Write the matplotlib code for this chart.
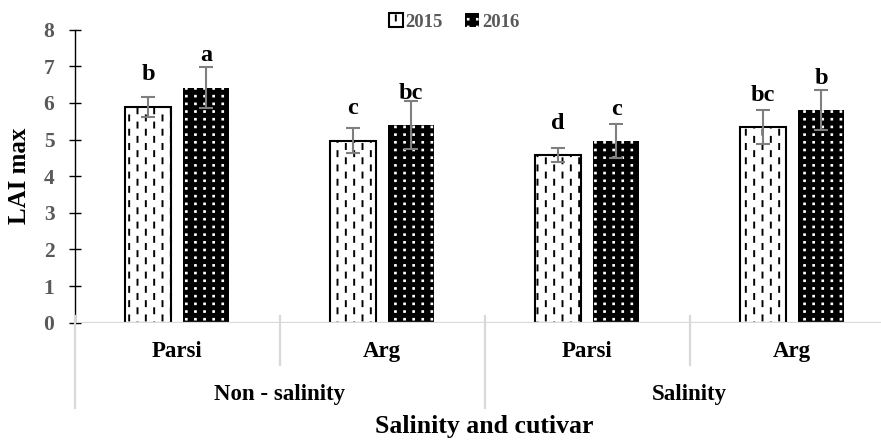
import numpy as np
import matplotlib
matplotlib.use('Agg')
import matplotlib.pyplot as plt
import matplotlib.hatch as mhatch
from matplotlib.path import Path
from matplotlib.lines import Line2D
from matplotlib.transforms import blended_transform_factory

# ---------------- data ----------------
cultivars = ['Parsi', 'Arg', 'Parsi', 'Arg']
salinity_groups = ['Non - salinity', 'Salinity']
years = ['2015', '2016']
lai_2015 = [5.90, 4.97, 4.58, 5.34]
lai_2016 = [6.42, 5.40, 4.96, 5.81]
err_2015 = [0.27, 0.35, 0.20, 0.47]
err_2016 = [0.57, 0.65, 0.47, 0.55]
letters_2015 = ['b', 'c', 'd', 'bc']
letters_2016 = ['a', 'bc', 'c', 'b']
y_ticks = [0, 1, 2, 3, 4, 5, 6, 7, 8]


# ---------------- custom hatch patterns ----------------
class DashedVertical(mhatch.HatchPatternBase):
    def __init__(self, hatch, density):
        self.ncol = 12 if hatch.count('|') else 0
        self.nrow = 7
        self.num_vertices = self.ncol * self.nrow * 2

    def set_vertices_and_codes(self, vertices, codes):
        L = 0.05
        i = 0
        for j in range(self.ncol):
            x = (j + 0.5) / self.ncol
            ph = 0.01 + (0.5 / self.nrow if j % 2 else 0.0)
            for k in range(self.nrow):
                y0 = ph + k / self.nrow
                vertices[i] = (x, y0)
                vertices[i + 1] = (x, y0 + L)
                codes[i] = Path.MOVETO
                codes[i + 1] = Path.LINETO
                i += 2


class DotGrid(mhatch.HatchPatternBase):
    def __init__(self, hatch, density):
        self.ncol = 11 if hatch.count('.') else 0
        self.nrow = 13
        self.num_vertices = self.ncol * self.nrow * 5

    def set_vertices_and_codes(self, vertices, codes):
        s = 0.0035
        i = 0
        for j in range(self.ncol):
            x = (j + 0.5) / self.ncol
            for k in range(self.nrow):
                y = (k + 0.5) / self.nrow
                vertices[i:i + 5] = [(x - s, y - s), (x + s, y - s), (x + s, y + s),
                                     (x - s, y + s), (x - s, y - s)]
                codes[i:i + 5] = [Path.MOVETO, Path.LINETO, Path.LINETO,
                                  Path.LINETO, Path.CLOSEPOLY]
                i += 5


ht = mhatch._hatch_types
ht[ht.index(mhatch.VerticalHatch)] = DashedVertical
ht[ht.index(mhatch.SmallFilledCircles)] = DotGrid

plt.rcParams['hatch.linewidth'] = 1.4
plt.rcParams['font.family'] = ['Liberation Serif', 'DejaVu Serif']

W, H = 881, 442
fig = plt.figure(figsize=(W / 100, H / 100), dpi=100)
ax_left_px, ax_top_px, ax_bot_px = 74.5, 29.7, 322.7
cat_w_px = 205.0
ax = fig.add_axes([ax_left_px / W, (H - ax_bot_px) / H,
                   (W - ax_left_px) / W, (ax_bot_px - ax_top_px) / H])

x = np.arange(len(cultivars))
bw, off = 0.227, 0.1415
b1 = ax.bar(x - off, lai_2015, bw, color='white', edgecolor='black',
            linewidth=1.5, hatch='|', label=years[0], zorder=2)
b2 = ax.bar(x + off, lai_2016, bw, color='black', edgecolor='white',
            linewidth=0, hatch='.', label=years[1], zorder=2)
ax.errorbar(x - off, lai_2015, yerr=err_2015, fmt='none', ecolor='#7f7f7f',
            elinewidth=1.5, capsize=5, capthick=1.5, zorder=4)
ax.errorbar(x + off, lai_2016, yerr=err_2016, fmt='none', ecolor='#7f7f7f',
            elinewidth=1.5, capsize=5, capthick=1.5, zorder=4)

# significance letters
for xi, v, t in zip(x - off, lai_2015, letters_2015):
    ax.text(xi, v + 0.72, t, ha='center', va='baseline', fontsize=17.5,
            fontweight='bold', color='black', zorder=5)
for xi, v, t in zip(x + off, lai_2016, letters_2016):
    ax.text(xi, v + 0.72, t, ha='center', va='baseline', fontsize=17.5,
            fontweight='bold', color='black', zorder=5)

ax.set_xlim(-0.5, (W - ax_left_px) / cat_w_px - 0.5)
ax.set_ylim(0, 8)
ax.set_yticks(y_ticks)
ax.set_yticklabels([str(t) for t in y_ticks])
ax.set_xticks([])
for sp in ['top', 'right', 'bottom']:
    ax.spines[sp].set_visible(False)
ax.spines['left'].set_color('black')
ax.spines['left'].set_linewidth(1.0)
ax.tick_params(axis='y', direction='inout', length=9, width=1.0, colors='black',
               pad=10)
for lbl in ax.get_yticklabels():
    lbl.set_color('#595959')
    lbl.set_fontweight('bold')
    lbl.set_fontsize(15.5)

# x axis line (gray)
ax.axhline(0, color='#d9d9d9', linewidth=1.6, zorder=3)

# category separators
tr = blended_transform_factory(ax.transData, ax.transAxes)
ax_h_px = ax_bot_px - ax_top_px
top_f = 7 / ax_h_px
short_f = -(365 - ax_bot_px) / ax_h_px
long_f = -(408 - ax_bot_px) / ax_h_px
n = len(cultivars)
for b in np.arange(n) - 0.5:
    is_long = (int(round(b + 0.5)) % 2 == 0)
    y0 = long_f if is_long else short_f
    ax.add_line(Line2D([b, b], [top_f, y0], transform=tr, color='#d9d9d9',
                       linewidth=1.6, clip_on=False, zorder=3))

# category labels
cat_f = -(357 - ax_bot_px) / ax_h_px
grp_f = -(400 - ax_bot_px) / ax_h_px
xl_f = -(433 - ax_bot_px) / ax_h_px
for xi, c in zip(x, cultivars):
    ax.text(xi, cat_f, c, transform=tr, ha='center', va='baseline',
            fontsize=16.5, fontweight='bold', color='black')
for gi, g in enumerate(salinity_groups):
    ax.text(2 * gi + 0.5, grp_f, g, transform=tr, ha='center', va='baseline',
            fontsize=16.5, fontweight='bold', color='black')
ax.text((n - 1) / 2, xl_f, 'Salinity and cutivar', transform=tr, ha='center',
        va='baseline', fontsize=18.5, fontweight='bold', color='black')

ax.text((20 - ax_left_px) / (W - ax_left_px), 0.5, 'LAI max', transform=ax.transAxes,
        rotation=90, ha='center', va='center', fontsize=18, fontweight='bold',
        color='black')

leg = fig.legend(handles=[b1, b2], loc='center', bbox_to_anchor=(454 / W, 1 - 22 / H),
                 ncol=2, frameon=False, handlelength=0.75, handleheight=0.75,
                 handletextpad=0.15, columnspacing=1.2, borderaxespad=0,
                 prop={'family': 'Liberation Serif', 'weight': 'bold', 'size': 13.5},
                 labelcolor='#595959')

fig.savefig('out.png', dpi=100)
